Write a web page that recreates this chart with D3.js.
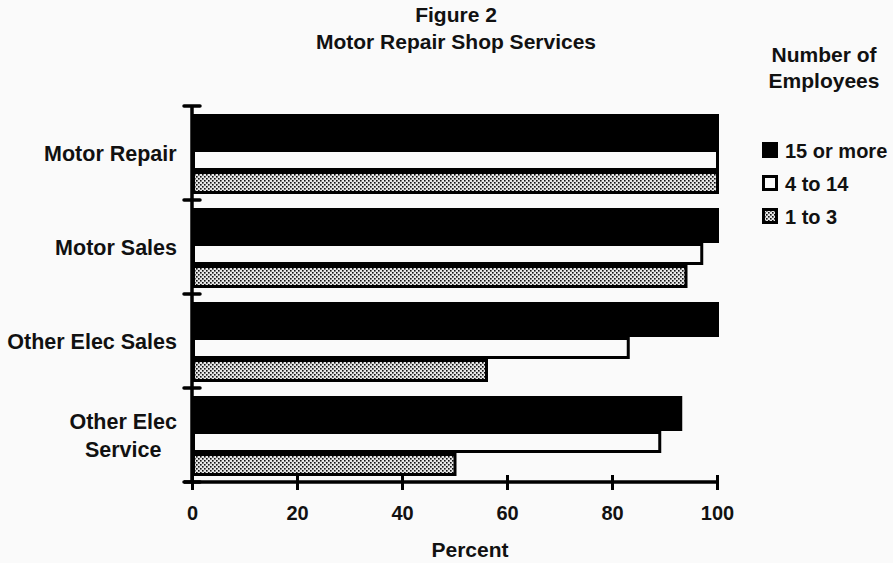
<!DOCTYPE html>
<html>
<head>
<meta charset="utf-8">
<script src="https://cdn.jsdelivr.net/npm/d3@7"></script>
<style>
  body { margin: 0; background: #fafafa; }
  svg text { font-family: "Liberation Sans", Arial, sans-serif; font-weight: bold; fill: #111; }
</style>
</head>
<body>
<div id="root"></div>
<script>
const width = 893
const height = 563

// data
const categories = ['Motor Repair', 'Motor Sales', 'Other Elec Sales', 'Other Elec\nService']
const seriesNames = ['15 or more', '4 to 14', '1 to 3']
const fifteenOrMore = [100, 100, 100, 93]
const fourTo14 = [100, 97, 83, 89]
const oneTo3 = [100, 94, 56, 50]
const xTicks = [0, 20, 40, 60, 80, 100]

const seriesValues = [fifteenOrMore, fourTo14, oneTo3]

const svg = d3.select('#root').append('svg')
  .attr('width', width)
  .attr('height', height)

const defs = svg.append('defs')
const pat = defs.append('pattern')
  .attr('id', 'dots')
  .attr('patternUnits', 'userSpaceOnUse')
  .attr('width', 4)
  .attr('height', 4)
pat.append('rect').attr('width', 4).attr('height', 4).attr('fill', '#e6e6e6')
pat.append('rect').attr('x', 0).attr('y', 0).attr('width', 1.6).attr('height', 1.6).attr('fill', '#111')
pat.append('rect').attr('x', 2).attr('y', 2).attr('width', 1.6).attr('height', 1.6).attr('fill', '#111')

const fills = ['#000', '#fafafa', 'url(#dots)']

const x = d3.scaleLinear().domain([0, 100]).range([192, 717])
const y = d3.scaleBand().domain(categories).range([106, 482]).padding(0)
const bw = y.bandwidth()

// bar placement within each band (fraction of band height)
const barTop = [8 / 94, 43 / 94, 65 / 94]
const barH = [35 / 94, 22 / 94, 23 / 94]

// title
const title = svg.append('text')
  .attr('text-anchor', 'middle')
  .style('font-size', '21px')
title.append('tspan').attr('x', 456).attr('y', 22).text('Figure 2')
title.append('tspan').attr('x', 456).attr('y', 49).text('Motor Repair Shop Services')

// bars
seriesValues.forEach((vals, s) => {
  svg.append('g').selectAll('rect')
    .data(categories.map((c, i) => ({ c, v: vals[i] })))
  .enter().append('rect')
    .attr('x', x(0) + (s === 0 ? 0 : 1.5))
    .attr('y', d => y(d.c) + barTop[s] * bw + (s === 0 ? 0 : 1.5))
    .attr('width', d => x(d.v) - x(0) + (s === 0 ? 2 : -1))
    .attr('height', barH[s] * bw - (s === 0 ? 0 : 3))
    .attr('fill', fills[s])
    .attr('stroke', s === 0 ? 'none' : '#000')
    .attr('stroke-width', 3)
})

// y axis line and boundary ticks
svg.append('line')
  .attr('x1', x(0)).attr('x2', x(0))
  .attr('y1', y.range()[0]).attr('y2', y.range()[1])
  .attr('stroke', '#000').attr('stroke-width', 3.5)

const bounds = categories.map(c => y(c)).concat([y.range()[1]])
svg.append('g').selectAll('line')
  .data(bounds)
.enter().append('line')
  .attr('x1', x(0) - 8).attr('x2', x(0) + 8)
  .attr('y1', d => d).attr('y2', d => d)
  .attr('stroke', '#000').attr('stroke-width', 3.5)
  .attr('stroke-linecap', 'round')

// category labels, right aligned block, lines centred
categories.forEach(c => {
  const lines = c.split('\n')
  const cy = y(c) + bw / 2
  const t = svg.append('text')
    .attr('text-anchor', 'middle')
    .style('font-size', '21.5px')
  lines.forEach((ln, i) => {
    t.append('tspan')
      .attr('x', 0)
      .attr('y', cy + 7.6 + (i - (lines.length - 1) / 2) * 28)
      .text(ln)
  })
  const w = t.node().getBBox().width
  t.selectAll('tspan').attr('x', 177 - w / 2)
})

// x axis
const xAxis = svg.append('g')
  .attr('transform', `translate(0,${y.range()[1]})`)
  .call(d3.axisBottom(x).tickValues(xTicks).tickSizeInner(8).tickSizeOuter(0).tickPadding(16))
xAxis.select('.domain').attr('stroke', '#000').attr('stroke-width', 3.5)
  .attr('d', `M${x(0) - 8},0H${x(100)}`)
xAxis.selectAll('.tick line')
  .attr('y1', -7).attr('y2', 8)
  .attr('stroke', '#000').attr('stroke-width', 3)
xAxis.selectAll('.tick text')
  .style('font-size', '20px')
  .style('font-family', '"Liberation Sans", Arial, sans-serif')
  .style('font-weight', 'bold')
  .attr('fill', '#111')

svg.append('text')
  .attr('x', 470).attr('y', 557)
  .attr('text-anchor', 'middle')
  .style('font-size', '21px')
  .text('Percent')

// legend
const leg = svg.append('text')
  .attr('text-anchor', 'middle')
  .style('font-size', '21px')
leg.append('tspan').attr('x', 824).attr('y', 62).text('Number of')
leg.append('tspan').attr('x', 824).attr('y', 88).text('Employees')

const legY = [142, 175, 208]
seriesNames.forEach((name, s) => {
  svg.append('rect')
    .attr('x', 762 + (s === 0 ? 0 : 1.5))
    .attr('y', legY[s] + (s === 0 ? 0 : 1.5))
    .attr('width', s === 0 ? 16 : 13)
    .attr('height', s === 0 ? 16 : 13)
    .attr('fill', fills[s])
    .attr('stroke', s === 0 ? 'none' : '#000')
    .attr('stroke-width', 3)
  svg.append('text')
    .attr('x', 785).attr('y', legY[s] + 15.5)
    .style('font-size', '20px')
    .text(name)
})
</script>
</body>
</html>
